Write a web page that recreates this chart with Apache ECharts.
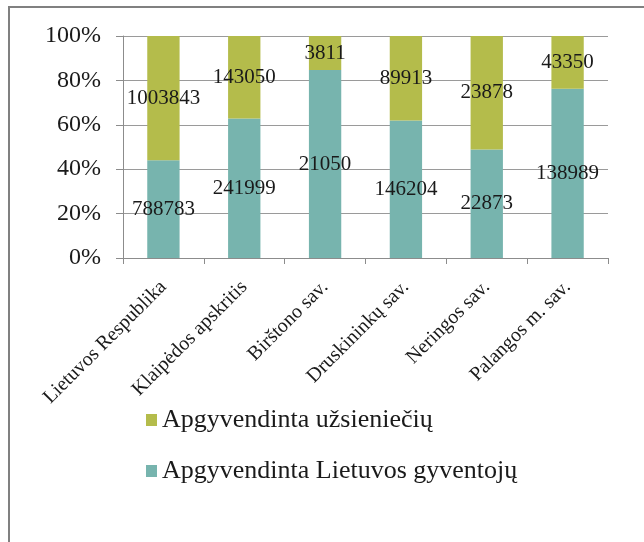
<!DOCTYPE html>
<html>
<head>
<meta charset="utf-8">
<script src="https://cdn.jsdelivr.net/npm/echarts@6/dist/echarts.min.js"></script>
<style>
  html, body { margin: 0; padding: 0; background: #fff; }
  #chart { width: 644px; height: 542px; }
</style>
</head>
<body>
<div id="chart"></div>
<script>
// kategorijos
const categories = ['Lietuvos Respublika', 'Klaipėdos apskritis', 'Birštono sav.', 'Druskininkų sav.', 'Neringos sav.', 'Palangos m. sav.']

// apgyvendinta (skaičiai)
const locals = [788783, 241999, 21050, 146204, 22873, 138989]
const foreigners = [1003843, 143050, 3811, 89913, 23878, 43350]

const localName = 'Apgyvendinta Lietuvos gyventojų'
const foreignName = 'Apgyvendinta užsieniečių'

const font = '"Liberation Serif", "DejaVu Serif", serif'

// 100% stacked - dalis nuo bendros sumos
const totals = locals.map((v, i) => v + foreigners[i])
const toShare = (arr) => arr.map((v, i) => ({ value: v / totals[i] * 100, raw: v }))

const chart = echarts.init(document.getElementById('chart'))

const labelStyle = {
  show: true,
  position: 'inside',
  color: '#1a1a1a',
  fontFamily: font,
  fontSize: 21,
  formatter: (p) => String(p.data.raw)
}

chart.setOption({
  animation: false,
  // rėmelis aplink
  graphic: [{
    type: 'rect',
    shape: { x: 9, y: 7, width: 700, height: 600 },
    style: { fill: 'none', stroke: '#808080', lineWidth: 2 },
    silent: true
  }],
  legend: {
    orient: 'vertical',
    left: 141,
    top: 402,
    icon: 'rect',
    itemWidth: 11,
    itemHeight: 12,
    itemGap: 25,
    textStyle: { fontFamily: font, fontSize: 26, color: '#1a1a1a' },
    data: [foreignName, localName]
  },
  grid: {
    left: 123,
    right: 36,
    top: 36,
    bottom: 284
  },
  xAxis: {
    type: 'category',
    data: categories,
    axisLine: { lineStyle: { color: '#8c8c8c' } },
    axisTick: { show: true, length: 6, lineStyle: { color: '#8c8c8c' } },
    axisLabel: {
      interval: 0,
      rotate: 45,
      margin: 26,
      fontFamily: font,
      fontSize: 20,
      color: '#1a1a1a'
    }
  },
  yAxis: {
    type: 'value',
    min: 0,
    max: 100,
    interval: 20,
    axisLine: { show: true, lineStyle: { color: '#8c8c8c' } },
    axisTick: { show: true, length: 7, lineStyle: { color: '#8c8c8c' } },
    splitLine: { lineStyle: { color: '#9a9a9a' } },
    axisLabel: {
      formatter: '{value}%',
      margin: 22,
      fontFamily: font,
      fontSize: 24,
      color: '#1a1a1a'
    }
  },
  series: [{
    name: localName,
    type: 'bar',
    stack: 'total',
    barWidth: '40%',
    itemStyle: { color: '#77B4AE' },
    label: labelStyle,
    data: toShare(locals)
  }, {
    name: foreignName,
    type: 'bar',
    stack: 'total',
    barWidth: '40%',
    itemStyle: { color: '#B4BC4B' },
    label: labelStyle,
    data: toShare(foreigners)
  }]
})
</script>
</body>
</html>
